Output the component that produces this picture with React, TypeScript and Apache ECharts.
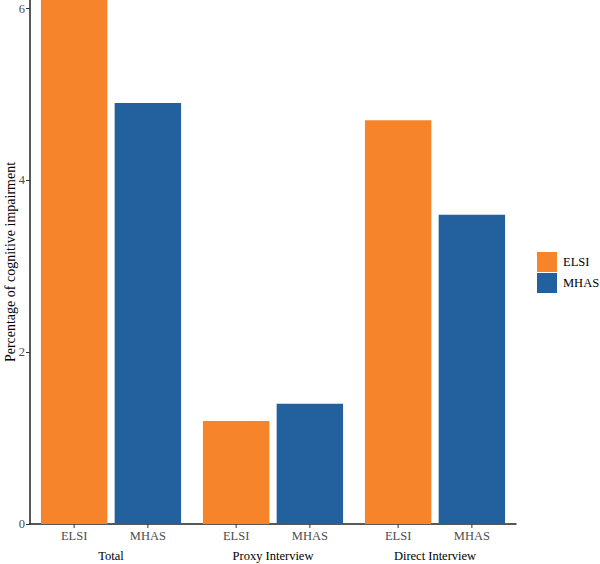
import React, { useEffect, useRef } from "react";
import * as echarts from "echarts";

const groups: string[] = ["Total", "Proxy Interview", "Direct Interview"];
const seriesNames: string[] = ["ELSI", "MHAS"];
const elsiValues: number[] = [6.2, 1.2, 4.7];
const mhasValues: number[] = [4.9, 1.4, 3.6];
const yTicks: number[] = [0, 2, 4, 6];
const colors: string[] = ["#F5842A", "#23609E"];

const FONT = "'Liberation Serif', 'Times New Roman', serif";

export default function App() {
  const ref = useRef<HTMLDivElement>(null);
  useEffect(() => {
    if (!ref.current) return;
    const chart = echarts.init(ref.current, undefined, { renderer: "svg" });
    const barLabel = {
      show: true,
      position: "bottom" as const,
      distance: 0,
      formatter: (p: any) => "{t|}\n{n|" + p.seriesName + "}",
      rich: {
        t: { width: 1, height: 4, backgroundColor: "#333333", lineHeight: 4, align: "center" as const },
        n: { fontFamily: FONT, fontSize: 12.5, color: "#4D4D4D", lineHeight: 15, align: "center" as const },
      },
    };
    const values = [elsiValues, mhasValues];
    chart.setOption({
      animation: false,
      textStyle: { fontFamily: FONT },
      grid: { left: 30, right: 84, top: 0, bottom: 40, containLabel: false, outerBoundsMode: "none" },
      legend: {
        orient: "vertical",
        left: 537,
        top: 252,
        padding: 0,
        itemWidth: 20,
        itemHeight: 20,
        itemGap: 1,
        icon: "rect",
        textStyle: { fontFamily: FONT, fontSize: 12.5, color: "#000000", padding: [0, 0, 0, 1] },
        data: seriesNames,
      },
      xAxis: {
        type: "category",
        data: groups,
        axisLine: { show: true, lineStyle: { color: "#222222", width: 1.5 } },
        axisTick: { show: false },
        axisLabel: { margin: 25, fontFamily: FONT, fontSize: 12.5, color: "#000000" },
      },
      yAxis: {
        type: "value",
        min: 0,
        max: 6.1,
        interval: 2,
        name: "Percentage of cognitive impairment",
        nameLocation: "middle",
        nameGap: 13,
        nameMoveOverlap: false,
        nameTextStyle: { fontFamily: FONT, fontSize: 14, color: "#000000" },
        splitLine: { show: false },
        axisLine: { show: true, lineStyle: { color: "#222222", width: 1.5 } },
        axisTick: { show: true, length: 4, lineStyle: { color: "#333333" }, customValues: yTicks },
        axisLabel: { margin: 5, fontFamily: FONT, fontSize: 12.5, color: "#4D4D4D", customValues: yTicks },
      },
      series: seriesNames.map((name, i) => ({
        name,
        type: "bar",
        data: values[i],
        barWidth: "41%",
        barGap: "11%",
        clip: true,
        itemStyle: { color: colors[i] },
        label: barLabel,
      })),
    });
    return () => chart.dispose();
  }, []);
  return (
    <div
      ref={ref}
      style={{ position: "fixed", left: 0, top: 0, width: 600, height: 564, background: "#ffffff" }}
    />
  );
}
